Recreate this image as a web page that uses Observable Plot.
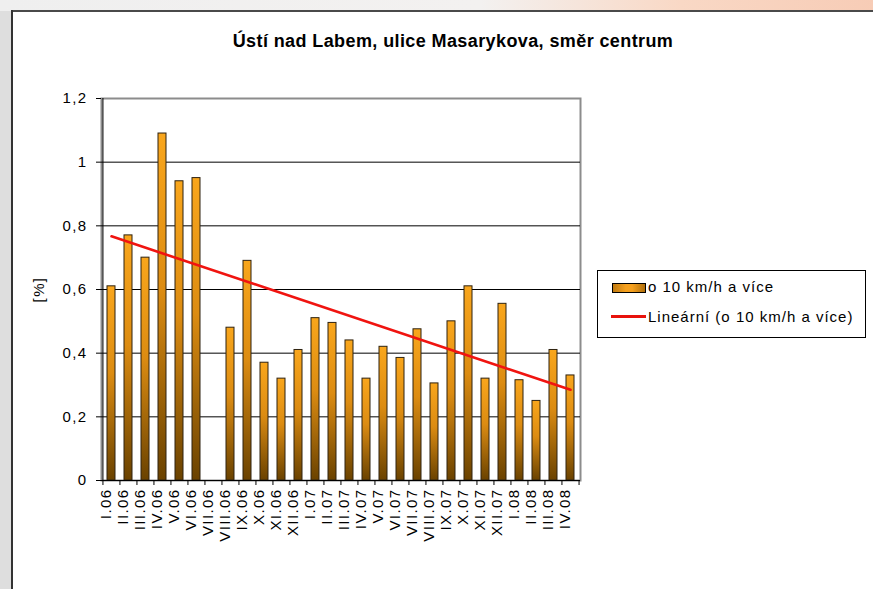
<!DOCTYPE html>
<html><head><meta charset="utf-8">
<script src="https://cdn.jsdelivr.net/npm/d3@7"></script>
<script src="https://cdn.jsdelivr.net/npm/@observablehq/plot@0.6"></script>
<style>
html,body{margin:0;padding:0;overflow:hidden;}
body{width:873px;height:589px;position:relative;background:#dedede;font-family:"Liberation Sans",Arial,sans-serif;color:#000;}
#topstrip{position:absolute;left:0;top:0;width:873px;height:11px;background:linear-gradient(to right,#efefef 0%,#f3f1f0 55%,#f9d8c5 78%,#f7ccb6 100%);}
#frame{position:absolute;left:11px;top:10px;width:862px;height:579px;background:#fff;}
#ftop{position:absolute;left:11px;top:10px;width:862px;height:2px;background:#4a4a4a;}
#fleft{position:absolute;left:11px;top:10px;width:2px;height:579px;background:#333;}
#title{position:absolute;left:0;top:32px;width:906px;text-align:center;font-weight:bold;font-size:18px;line-height:18px;letter-spacing:0.4px;white-space:nowrap;}
#chart{position:absolute;left:0;top:60px;}
#legend{position:absolute;left:597px;top:270px;width:267px;height:66px;border:1px solid #000;background:#fff;font-size:15px;line-height:15px;letter-spacing:1px;}
.sw{position:absolute;left:14px;top:12px;width:32px;height:8px;border:1px solid #000;background:linear-gradient(to right,#c07a10,#f5a01e 40%,#f5a01e 60%,#b06f0c);}
.ln{position:absolute;left:13px;top:44px;width:35px;height:3px;background:#e8120c;}
.t1{position:absolute;left:50px;top:8px;white-space:nowrap;}
.t2{position:absolute;left:50px;top:38px;white-space:nowrap;}
</style></head>
<body>
<div id="topstrip"></div>
<div id="frame"></div>
<div id="ftop"></div>
<div id="fleft"></div>
<div id="title">Ústí nad Labem, ulice Masarykova, směr centrum</div>
<div id="chart"></div>
<div id="legend">
  <div class="sw"></div><div class="t1">o 10 km/h a více</div>
  <div class="ln"></div><div class="t2">Lineární (o 10 km/h a více)</div>
</div>
<script>
const months = ["I.06","II.06","III.06","IV.06","V.06","VI.06","VII.06","VIII.06","IX.06","X.06","XI.06","XII.06",
  "I.07","II.07","III.07","IV.07","V.07","VI.07","VII.07","VIII.07","IX.07","X.07","XI.07","XII.07",
  "I.08","II.08","III.08","IV.08"];
const values = [0.61,0.77,0.70,1.09,0.94,0.95,null,0.48,0.69,0.37,0.32,0.41,
  0.51,0.495,0.44,0.32,0.42,0.385,0.475,0.305,0.50,0.61,0.32,0.555,
  0.315,0.25,0.41,0.33];
const trendMonths = ["I.06","IV.08"];
const trendValues = [0.767,0.285];
const yTicks = [0,0.2,0.4,0.6,0.8,1.0,1.2];
const gridTicks = [0.2,0.4,0.6,0.8,1.0];

const data = months.map((m,i)=>({month:m, value:values[i]}));
const trend = trendMonths.map((m,i)=>({month:m, value:trendValues[i]}));

const W = 600, H = 529, ML = 101, MR = 20, MT = 38, MB = 109;
const half = (W - ML - MR) / months.length / 2;
const fmt = d => String(+d.toFixed(1)).replace(".", ",");

const svg = Plot.plot({
  width: W, height: H,
  marginLeft: ML, marginRight: MR, marginTop: MT, marginBottom: MB,
  style: {fontSize: "15px", fontFamily: "'Liberation Sans', Arial, sans-serif", letterSpacing: "1.4px", color: "#000", background: "transparent", overflow: "visible"},
  x: {type: "band", domain: months, paddingInner: 0.52, paddingOuter: 0.26, axis: null},
  y: {domain: [0, 1.2], axis: null},
  marks: [
    Plot.frame({stroke: "#8c8c8c", strokeWidth: 2}),
    Plot.gridY(gridTicks, {stroke: "#000", strokeOpacity: 1}),
    Plot.barY(data, {x: "month", y: "value", fill: "url(#barGrad)", stroke: "#2e2210", strokeWidth: 1}),
    Plot.ruleY([0], {stroke: "#000"}),
    Plot.ruleX([months[0]], {dx: -half, stroke: "#000"}),
    Plot.line(trend, {x: "month", y: "value", stroke: "#f01410", strokeWidth: 2.6}),
    Plot.axisY({ticks: yTicks, tickSize: 5, tickPadding: 9, tickFormat: fmt, label: "[%]", labelAnchor: "center", labelOffset: 68, labelArrow: "none"}),
    Plot.axisX({fill: "none", tickSize: 5, dx: -half, label: null}),
    Plot.axisX([months[months.length-1]], {fill: "none", tickSize: 5, dx: half, label: null}),
    Plot.axisX({tickSize: 0, tickPadding: 8, tickRotate: -90, dx: -5, label: null})
  ]
});
const defs = d3.select(svg).insert("defs", ":first-child");
const g = defs.append("linearGradient").attr("id", "barGrad").attr("x1", 0).attr("y1", 0).attr("x2", 0).attr("y2", 1);
g.append("stop").attr("offset", 0).attr("stop-color", "#f9a61c");
g.append("stop").attr("offset", 0.45).attr("stop-color", "#dc8c12");
g.append("stop").attr("offset", 1).attr("stop-color", "#6a4200");
document.getElementById("chart").appendChild(svg);
</script>
</body></html>
